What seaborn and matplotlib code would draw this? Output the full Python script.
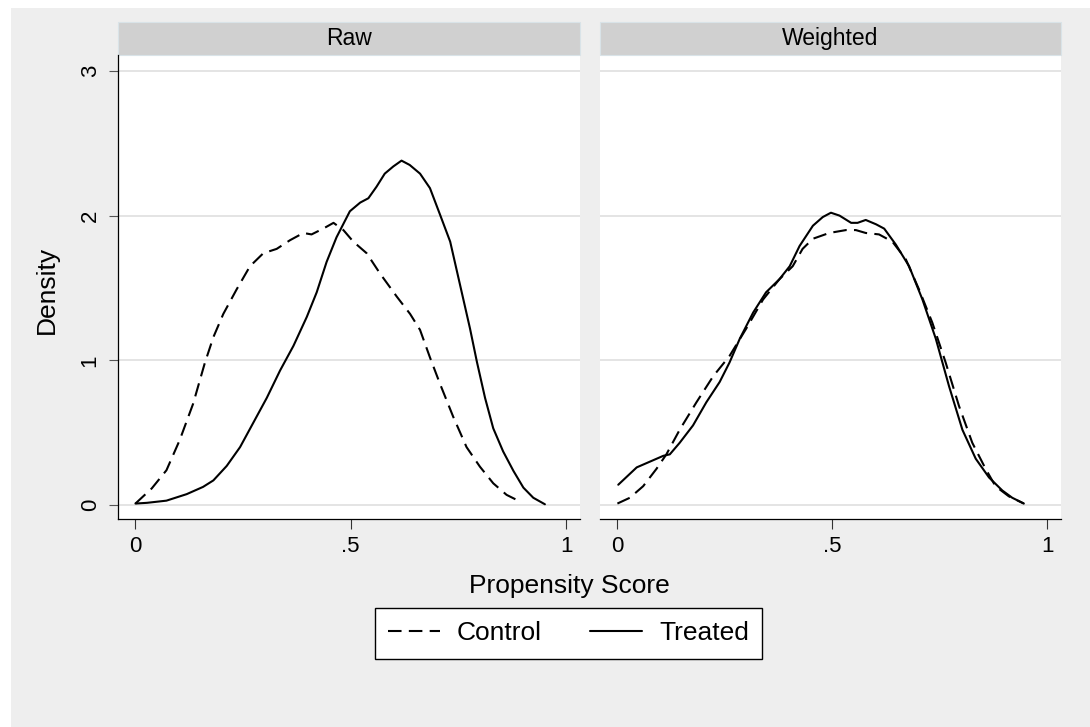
import numpy as np
import pandas as pd
import seaborn as sns
import matplotlib.pyplot as plt
from matplotlib.patches import Rectangle

# kernel density curves
raw_control_x = [0.0, 0.038, 0.072, 0.103, 0.134, 0.161, 0.181, 0.204, 0.235, 0.266, 0.297, 0.328,
                 0.359, 0.390, 0.409, 0.436, 0.460, 0.483, 0.506, 0.537, 0.568, 0.607, 0.638, 0.661,
                 0.684, 0.707, 0.738, 0.769, 0.800, 0.831, 0.862, 0.889]
raw_control_y = [0.01, 0.115, 0.24, 0.45, 0.70, 0.98, 1.16, 1.32, 1.49, 1.65, 1.74, 1.77,
                 1.83, 1.88, 1.87, 1.91, 1.95, 1.90, 1.82, 1.74, 1.60, 1.44, 1.32, 1.21,
                 1.02, 0.84, 0.61, 0.40, 0.265, 0.15, 0.07, 0.03]

raw_treated_x = [0.0, 0.027, 0.072, 0.119, 0.157, 0.181, 0.212, 0.243, 0.274, 0.305, 0.336, 0.367,
                 0.398, 0.421, 0.444, 0.467, 0.498, 0.522, 0.541, 0.560, 0.579, 0.599, 0.618, 0.637,
                 0.661, 0.684, 0.707, 0.731, 0.754, 0.777, 0.793, 0.812, 0.831, 0.854, 0.878, 0.901,
                 0.924, 0.951]
raw_treated_y = [0.01, 0.015, 0.03, 0.075, 0.125, 0.17, 0.27, 0.40, 0.57, 0.74, 0.93, 1.10,
                 1.30, 1.47, 1.68, 1.85, 2.03, 2.09, 2.12, 2.20, 2.29, 2.34, 2.38, 2.35,
                 2.29, 2.19, 2.01, 1.82, 1.52, 1.22, 0.99, 0.74, 0.53, 0.37, 0.235, 0.12,
                 0.05, 0.005]

wtd_control_x = [0.0, 0.029, 0.060, 0.091, 0.114, 0.145, 0.184, 0.223, 0.261, 0.300, 0.339, 0.377,
                 0.408, 0.431, 0.455, 0.493, 0.532, 0.555, 0.578, 0.609, 0.640, 0.671, 0.702, 0.733,
                 0.764, 0.795, 0.826, 0.857, 0.880, 0.911, 0.946]
wtd_control_y = [0.01, 0.05, 0.13, 0.25, 0.35, 0.52, 0.71, 0.89, 1.03, 1.22, 1.42, 1.56,
                 1.65, 1.77, 1.84, 1.88, 1.90, 1.90, 1.88, 1.87, 1.82, 1.70, 1.49, 1.26,
                 0.985, 0.685, 0.43, 0.25, 0.13, 0.06, 0.01]

wtd_treated_x = [0.002, 0.045, 0.076, 0.107, 0.122, 0.145, 0.176, 0.207, 0.238, 0.261, 0.285, 0.316,
                 0.346, 0.377, 0.401, 0.424, 0.455, 0.478, 0.497, 0.517, 0.544, 0.559, 0.578, 0.602,
                 0.621, 0.648, 0.679, 0.710, 0.741, 0.772, 0.803, 0.834, 0.865, 0.896, 0.919, 0.946]
wtd_treated_y = [0.14, 0.26, 0.30, 0.34, 0.35, 0.43, 0.55, 0.71, 0.85, 0.985, 1.15, 1.33,
                 1.47, 1.56, 1.65, 1.79, 1.93, 1.99, 2.02, 2.00, 1.95, 1.95, 1.97, 1.94,
                 1.91, 1.80, 1.65, 1.42, 1.15, 0.82, 0.52, 0.32, 0.19, 0.10, 0.05, 0.01]

panels = ["Raw", "Weighted"]
groups = ["Control", "Treated"]
x_ticks = [0, 0.5, 1]
x_tick_labels = ["0", ".5", "1"]
y_ticks = [0, 1, 2, 3]

curves = {
    ("Raw", "Control"): (raw_control_x, raw_control_y),
    ("Raw", "Treated"): (raw_treated_x, raw_treated_y),
    ("Weighted", "Control"): (wtd_control_x, wtd_control_y),
    ("Weighted", "Treated"): (wtd_treated_x, wtd_treated_y),
}
frames = []
for (panel, group), (xs, ys) in curves.items():
    frames.append(pd.DataFrame({"panel": panel, "group": group, "score": xs, "density": ys}))
df = pd.concat(frames, ignore_index=True)

sns.set_theme(style="white")
plt.rcParams["font.family"] = ["Liberation Sans", "DejaVu Sans"]
plt.rcParams["text.color"] = "black"
plt.rcParams["axes.labelcolor"] = "black"
plt.rcParams["xtick.labelcolor"] = "black"
plt.rcParams["ytick.labelcolor"] = "black"

W, H = 1090, 727
fig = plt.figure(figsize=(W / 100, H / 100), dpi=100, facecolor="white")
fig.add_artist(Rectangle((11 / W, 0), 1, 1 - 8 / H, transform=fig.transFigure,
                         facecolor="#eeeeee", edgecolor="none", zorder=-10))

ax_left = [118, 600]
ax_w = [462, 461]
top, bottom = 55, 519
strip_h = 33
dash_style = {"Control": (6.5, 3.5), "Treated": ""}

axes = []
for i, panel in enumerate(panels):
    ax = fig.add_axes([ax_left[i] / W, 1 - bottom / H, ax_w[i] / W, (bottom - top) / H])
    ax.set_facecolor("white")
    sub = df[df["panel"] == panel]
    sns.lineplot(data=sub, x="score", y="density", style="group", style_order=groups,
                 dashes=dash_style, color="black", lw=1.5, estimator=None, sort=False,
                 ax=ax, legend=(i == 0))
    ax.set_xlim(-0.0405, 1.0325)
    ax.set_ylim(-0.0968, 3.11)
    ax.set_xticks(x_ticks)
    ax.set_xticklabels(x_tick_labels)
    ax.set_yticks(y_ticks)
    ax.yaxis.grid(True, color="#e4e4e4", lw=1.4)
    ax.set_axisbelow(True)
    ax.set_xlabel("")
    ax.set_ylabel("")
    for s in ["top", "right"]:
        ax.spines[s].set_visible(False)
    ax.spines["bottom"].set_color("black")
    ax.spines["bottom"].set_linewidth(0.9)
    ax.tick_params(axis="x", direction="out", length=7.5, width=0.8, color="#333333",
                   pad=5, labelsize=16, labelcolor="black", bottom=True)
    if i == 0:
        ax.spines["left"].set_color("black")
        ax.spines["left"].set_linewidth(0.9)
        ax.tick_params(axis="y", direction="out", length=6.5, width=0.8, color="#555555",
                       pad=6, labelsize=16, labelcolor="black", left=True)
        for lab in ax.get_yticklabels():
            lab.set_rotation(90)
            lab.set_va("center")
    else:
        ax.spines["left"].set_visible(False)
        ax.tick_params(axis="y", left=False, labelleft=False)
    # facet strip
    sh = strip_h / (bottom - top)
    ax.add_patch(Rectangle((0, 1), 1, sh, transform=ax.transAxes, clip_on=False,
                           facecolor="#d0d0d0", edgecolor="#d9e3e8", lw=0.8))
    ax.text(0.5, 1 + sh / 2, panel, transform=ax.transAxes, ha="center", va="center",
            fontsize=16.5, color="black")
    axes.append(ax)

handles, labels = axes[0].get_legend_handles_labels()
axes[0].get_legend().remove()

fig.text(47 / W, 1 - 290 / H, "Density", rotation=90, ha="center", va="center",
         fontsize=19, color="black")
fig.text(569 / W, 1 - 593 / H, "Propensity Score", ha="center", va="baseline",
         fontsize=19, color="black")

leg = fig.legend(handles, labels, loc="center", bbox_to_anchor=(568.5 / W, 1 - 633.5 / H),
                 ncol=2, fontsize=19, frameon=True, fancybox=False, handlelength=1.95,
                 handletextpad=0.65, columnspacing=1.85, borderpad=0.5, borderaxespad=0)
leg.get_frame().set_edgecolor("black")
leg.get_frame().set_linewidth(1.0)
leg.get_frame().set_facecolor("white")
leg.get_frame().set_alpha(1)
for line in leg.get_lines():
    line.set_color("black")
    line.set_linewidth(1.5)
for t in leg.get_texts():
    t.set_color("black")

fig.savefig("out.png", dpi=100, facecolor=fig.get_facecolor())
